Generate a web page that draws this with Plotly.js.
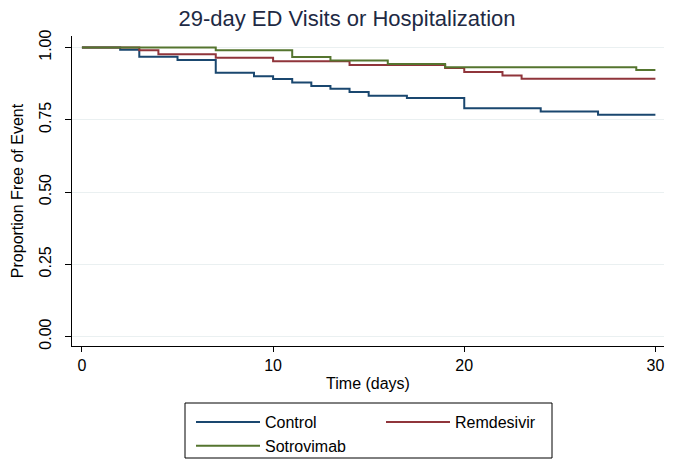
<!DOCTYPE html>
<html>
<head>
<meta charset="utf-8">
<script src="https://cdn.plot.ly/plotly-3.0.1.min.js"></script>
<style>
html,body{margin:0;padding:0;background:#fff;}
#chart{width:680px;height:473px;}
</style>
</head>
<body>
<div id="chart"></div>
<script>
// Kaplan-Meier step data (time in days, proportion free of event)
var controlTime = [0, 2, 3, 5, 7, 9, 10, 11, 12, 13, 14, 15, 17, 20, 24, 27, 30];
var controlSurv = [1.000, 0.992, 0.968, 0.957, 0.913, 0.901, 0.891, 0.879, 0.867, 0.857, 0.846, 0.833, 0.825, 0.790, 0.779, 0.767, 0.767];

var remdesivirTime = [0, 3, 4, 7, 10, 14, 19, 20, 22, 23, 30];
var remdesivirSurv = [1.000, 0.991, 0.977, 0.965, 0.953, 0.940, 0.929, 0.915, 0.903, 0.892, 0.892];

var sotrovimabTime = [0, 7, 11, 13, 16, 19, 29, 30];
var sotrovimabSurv = [1.000, 0.991, 0.967, 0.955, 0.943, 0.932, 0.922, 0.922];

var xTicks = [0, 10, 20, 30];
var yTicks = [0, 0.25, 0.5, 0.75, 1];
var yTickText = ['0.00', '0.25', '0.50', '0.75', '1.00'];

var FONT = 'Arial, "Liberation Sans", sans-serif';

var traces = [
  {x: controlTime, y: controlSurv, name: 'Control', type: 'scatter', mode: 'lines',
   line: {shape: 'hv', color: '#1a476f', width: 2}, legend: 'legend'},
  {x: remdesivirTime, y: remdesivirSurv, name: 'Remdesivir', type: 'scatter', mode: 'lines',
   line: {shape: 'hv', color: '#90353b', width: 2}, legend: 'legend2'},
  {x: sotrovimabTime, y: sotrovimabSurv, name: 'Sotrovimab', type: 'scatter', mode: 'lines',
   line: {shape: 'hv', color: '#55752f', width: 2}, legend: 'legend'}
];

var PW = 592, PH = 310, L = 72, T = 36;
function px2x(p) { return (p - L) / PW; }
function px2y(p) { return (T + PH - p) / PH; }

var layout = {
  width: 680, height: 473,
  paper_bgcolor: '#ffffff', plot_bgcolor: '#ffffff',
  font: {family: FONT, size: 16, color: '#000'},
  margin: {l: L, r: 680 - L - PW, t: T, b: 473 - T - PH, autoexpand: false},
  title: {text: '29-day ED Visits or Hospitalization', x: 347 / 680, xref: 'container', xanchor: 'center',
          y: 0.962, yref: 'container', yanchor: 'middle',
          font: {family: FONT, size: 22, color: '#1e2a44'}},
  xaxis: {
    range: [-0.52, 30.45], tickvals: xTicks, ticktext: xTicks.map(String),
    showline: true, linecolor: '#000', linewidth: 1, mirror: false,
    ticks: 'outside', ticklen: 5, tickcolor: '#000',
    showgrid: false, zeroline: false,
    tickfont: {size: 16, family: FONT},
    title: {text: 'Time (days)', font: {size: 16, family: FONT}, standoff: 4}
  },
  yaxis: {
    range: [-0.033, 1.04], tickvals: yTicks, ticktext: yTickText, tickangle: -90,
    showline: true, linecolor: '#000', linewidth: 1,
    ticks: 'outside', ticklen: 6, tickcolor: '#000', ticklabelstandoff: 8,
    showgrid: true, gridcolor: '#eaf0f1', gridwidth: 1, zeroline: false,
    tickfont: {size: 16, family: FONT},
    title: {text: 'Proportion Free of Event', font: {size: 16, family: FONT}, standoff: 8}
  },
  showlegend: true,
  legend: {x: px2x(191), y: px2y(405),
           xanchor: 'left', yanchor: 'top', orientation: 'v', itemwidth: 64,
           bgcolor: 'rgba(0,0,0,0)', borderwidth: 0, tracegroupgap: 0,
           font: {size: 16, family: FONT}},
  legend2: {x: px2x(381), y: px2y(405),
           xanchor: 'left', yanchor: 'top', orientation: 'v', itemwidth: 64,
           bgcolor: 'rgba(0,0,0,0)', borderwidth: 0,
           font: {size: 16, family: FONT}},
  shapes: [{type: 'rect', xref: 'paper', yref: 'paper',
            x0: px2x(185), x1: px2x(552),
            y0: px2y(458), y1: px2y(403),
            line: {color: '#000', width: 1}, fillcolor: 'rgba(0,0,0,0)'}]
};

Plotly.newPlot('chart', traces, layout, {displayModeBar: false, staticPlot: true});
</script>
</body>
</html>
